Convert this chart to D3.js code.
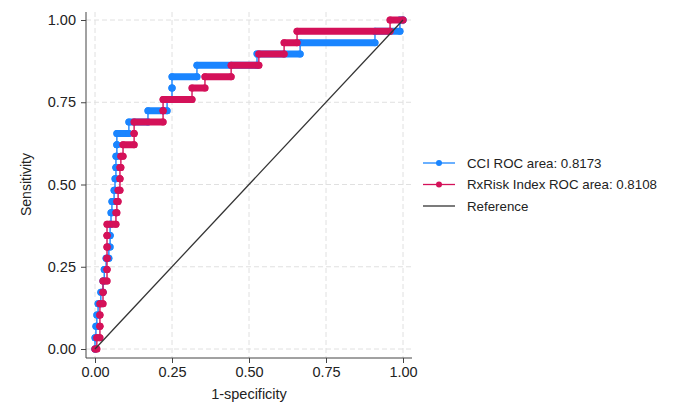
<!DOCTYPE html>
<html>
<head>
<meta charset="utf-8">
<script src="https://cdn.jsdelivr.net/npm/d3@7"></script>
<style>
    html, body { margin: 0; padding: 0; background: #fff; }
    svg { display: block; font-family: "Liberation Sans", Arial, sans-serif; }
    .tick text { font-size: 14.5px; fill: #222; }
    .tick line { stroke: #444; }
</style>
</head>
<body>
<svg width="685" height="411"></svg>
<script>
    // sensitivity levels (one per positive case, 29 positives)
    var sensLevels = [0, .0345, .069, .1034, .1379, .1724, .2069, .2414, .2759, .3103,
        .3448, .3793, .4138, .4483, .4828, .5172, .5517, .5862, .6207, .6552,
        .6897, .7241, .7586, .7931, .8276, .8621, .8966, .9310, .9655, 1];

    // 1-specificity where each sensitivity level starts / ends
    var cciFrom = [0, 0, .003, .006, .010, .019, .026, .030, .036, .045,
        .049, .049, .052, .055, .062, .065, .068, .068, .071, .071,
        .110, .172, .234, .250, .250, .331, .526, .666, .909, .990];
    var cciTo = [0, .003, .006, .010, .019, .026, .030, .036, .045, .049,
        .049, .052, .055, .062, .065, .068, .068, .071, .071, .110,
        .172, .234, .250, .250, .331, .526, .666, .909, .990, 1];

    var rxFrom = [0, .006, .016, .016, .016, .026, .026, .039, .039, .039,
        .039, .039, .068, .071, .075, .081, .081, .084, .091, .127,
        .127, .221, .221, .315, .357, .442, .532, .614, .656, .958];
    var rxTo = [.006, .016, .016, .016, .026, .026, .039, .039, .039, .039,
        .039, .068, .071, .075, .081, .081, .084, .091, .127, .127,
        .221, .221, .315, .357, .442, .532, .614, .656, .958, 1];

    var tickVals = [0, .25, .5, .75, 1];

    var series = [
        {name: "CCI ROC area: 0.8173", color: "#1a85ff", from: cciFrom, to: cciTo},
        {name: "RxRisk Index ROC area: 0.8108", color: "#d41159", from: rxFrom, to: rxTo}
    ];

    var svg = d3.select("svg");
    var plot = {left: 86, right: 412, top: 12, bottom: 358};

    var x = d3.scaleLinear().domain([0, 1]).range([95, 403]);
    var y = d3.scaleLinear().domain([0, 1]).range([349, 20]);

    // grid
    var grid = svg.append("g").attr("stroke", "#e0e0e0").attr("stroke-dasharray", "5,3");
    tickVals.forEach(function (t) {
        grid.append("line").attr("x1", plot.left).attr("x2", plot.right)
            .attr("y1", y(t)).attr("y2", y(t));
        grid.append("line").attr("x1", x(t)).attr("x2", x(t))
            .attr("y1", plot.top).attr("y2", plot.bottom);
    });

    // axes
    var yAxis = svg.append("g").attr("transform", "translate(" + plot.left + ",0)")
        .call(d3.axisLeft(y).tickValues(tickVals).tickFormat(d3.format(".2f")).tickSize(5).tickPadding(5));
    var xAxis = svg.append("g").attr("transform", "translate(0," + plot.bottom + ")")
        .call(d3.axisBottom(x).tickValues(tickVals).tickFormat(d3.format(".2f")).tickSize(5).tickPadding(4));
    yAxis.select(".domain").remove();
    xAxis.select(".domain").remove();
    svg.append("line").attr("x1", plot.left).attr("x2", plot.left)
        .attr("y1", plot.top).attr("y2", plot.bottom).attr("stroke", "#444");
    svg.append("line").attr("x1", plot.left).attr("x2", plot.right)
        .attr("y1", plot.bottom).attr("y2", plot.bottom).attr("stroke", "#444");

    svg.append("text").attr("x", x(0.5)).attr("y", 399)
        .attr("text-anchor", "middle").attr("font-size", "14.5px").attr("fill", "#222")
        .text("1-specificity");
    svg.append("text").attr("transform", "translate(31," + y(0.5) + ") rotate(-90)")
        .attr("text-anchor", "middle").attr("font-size", "14px").attr("fill", "#222")
        .text("Sensitivity");

    // curves
    var line = d3.line().x(function (d) { return x(d[0]); }).y(function (d) { return y(d[1]); });

    series.forEach(function (s) {
        var pts = [];
        sensLevels.forEach(function (t, i) {
            pts.push([s.from[i], t]);
            pts.push([s.to[i], t]);
        });
        var g = svg.append("g");
        g.append("path").attr("d", line(pts)).attr("fill", "none")
            .attr("stroke", s.color).attr("stroke-width", 1.4);
        // dense markers along each horizontal run
        g.selectAll("line.run").data(sensLevels).enter().append("line")
            .attr("x1", function (d, i) { return x(s.from[i]); })
            .attr("x2", function (d, i) { return x(s.to[i]); })
            .attr("y1", function (d) { return y(d); })
            .attr("y2", function (d) { return y(d); })
            .attr("stroke", s.color).attr("stroke-width", 7).attr("stroke-linecap", "round");
        g.selectAll("circle").data(pts).enter().append("circle")
            .attr("cx", function (d) { return x(d[0]); })
            .attr("cy", function (d) { return y(d[1]); })
            .attr("r", 3.5).attr("fill", s.color);
    });

    // reference line
    svg.append("line").attr("x1", x(0)).attr("y1", y(0)).attr("x2", x(1)).attr("y2", y(1))
        .attr("stroke", "#333").attr("stroke-width", 1.3);

    // legend
    var legendItems = series.map(function (s) { return {name: s.name, color: s.color, marker: true}; })
        .concat([{name: "Reference", color: "#333", marker: false}]);
    var legend = svg.append("g").selectAll("g").data(legendItems).enter().append("g")
        .attr("transform", function (d, i) { return "translate(423," + (163 + i * 21.5) + ")"; });
    legend.append("line").attr("x1", 0).attr("x2", 32)
        .attr("stroke", function (d) { return d.color; }).attr("stroke-width", 1.3);
    legend.filter(function (d) { return d.marker; }).append("circle")
        .attr("cx", 16).attr("r", 3).attr("fill", function (d) { return d.color; });
    legend.append("text").attr("x", 44).attr("dy", "0.35em")
        .attr("font-size", "13.3px").attr("fill", "#222")
        .text(function (d) { return d.name; });
</script>
</body>
</html>
